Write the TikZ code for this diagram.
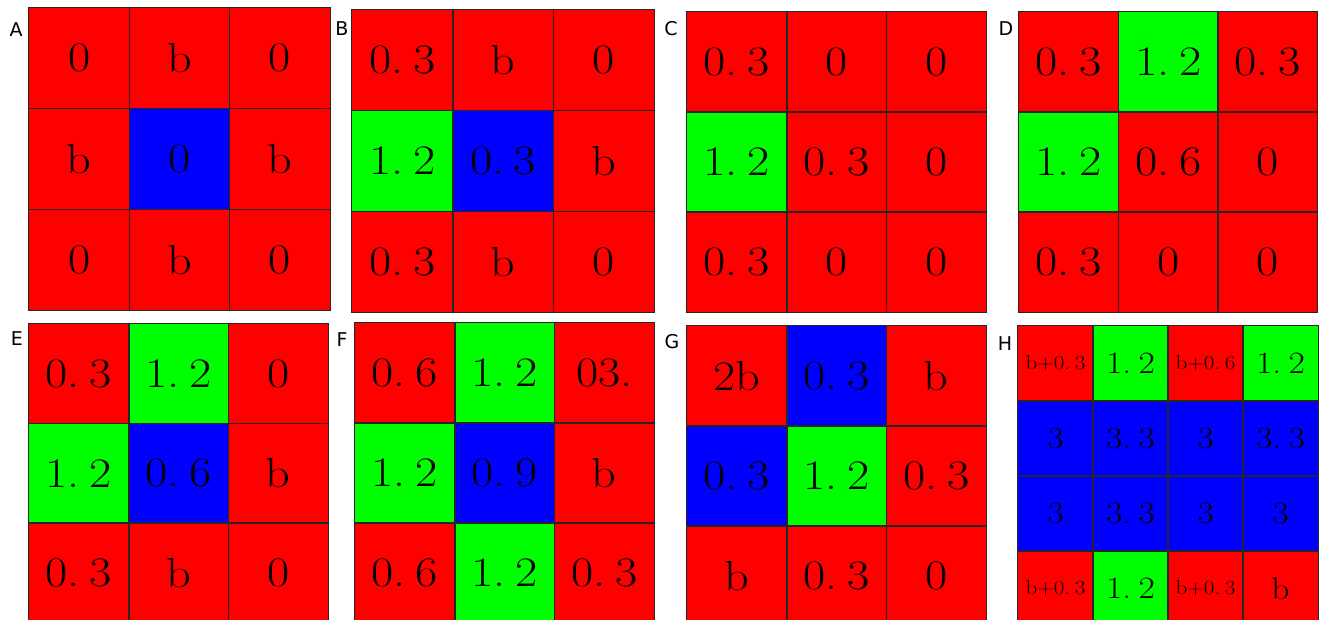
\documentclass[tikz,border=0pt]{standalone}
\usepackage{graphicx}
\usepackage{fontspec}
\newfontfamily\lblfont{DejaVu Sans}
\newcommand\smtxt[1]{{\fontsize{20}{22}\selectfont #1}}
\newcommand\gp{\hspace{0.2em}}
\newcommand\widetxt[1]{\scalebox{1.15}[1]{#1}}
\tikzset{
  x=1pt, y=-1pt,
  cellbox/.style={inner sep=0pt},
  cellline/.style={draw=black!85, line width=0.8pt},
  bigtxt/.style={font=\fontsize{42}{44}\selectfont},
  midtxt/.style={font=\fontsize{31}{33}\selectfont},
  lbl/.style={font=\lblfont\fontsize{19}{21}\selectfont, inner sep=0pt},
}
% #1 name, #2 x0, #3 y0, #4 cell width, #5 cell height, #6 text style, #7 list c/r/colour/text
\newcommand\drawpanel[7]{%
  \foreach \c/\r/\col/\t in {#7} {
    \node[cellbox, #6, fill=\col, minimum width=#4pt, minimum height=#5pt]
      (#1-\r-\c) at ({#2+(\c-0.5)*#4},{#3+(\r-0.5)*#5}) {\widetxt{\t}};
  }
  \foreach \c/\r/\col/\t in {#7} {
    \draw[cellline] (#1-\r-\c.south west) rectangle (#1-\r-\c.north east);
  }}
\begin{document}
\begin{tikzpicture}
\useasboundingbox (0,0) rectangle (1321,620);
\clip (0,0) rectangle (1321,620);
\fill[white] (0,0) rectangle (1321,620);

\drawpanel{A}{29}{8}{100.3}{100.7}{bigtxt}{%
  1/1/red/0, 2/1/red/b, 3/1/red/0,
  1/2/red/b, 2/2/blue/0, 3/2/red/b,
  1/3/red/0, 2/3/red/b, 3/3/red/0}
\drawpanel{B}{352}{10}{100.7}{100.7}{bigtxt}{%
  1/1/red/0.\gp3, 2/1/red/b, 3/1/red/0,
  1/2/green/1.\gp2, 2/2/blue/0.\gp3, 3/2/red/b,
  1/3/red/0.\gp3, 2/3/red/b, 3/3/red/0}
\drawpanel{C}{687}{12}{99.7}{100}{bigtxt}{%
  1/1/red/0.\gp3, 2/1/red/0, 3/1/red/0,
  1/2/green/1.\gp2, 2/2/red/0.\gp3, 3/2/red/0,
  1/3/red/0.\gp3, 2/3/red/0, 3/3/red/0}
\drawpanel{D}{1019}{12}{99.5}{100}{bigtxt}{%
  1/1/red/0.\gp3, 2/1/green/1.\gp2, 3/1/red/0.\gp3,
  1/2/green/1.\gp2, 2/2/red/0.\gp6, 3/2/red/0,
  1/3/red/0.\gp3, 2/3/red/0, 3/3/red/0}
\drawpanel{E}{29}{324}{99.7}{99.5}{bigtxt}{%
  1/1/red/0.\gp3, 2/1/green/1.\gp2, 3/1/red/0,
  1/2/green/1.\gp2, 2/2/blue/0.\gp6, 3/2/red/b,
  1/3/red/0.\gp3, 2/3/red/b, 3/3/red/0}
\drawpanel{F}{355}{323}{99.7}{100}{bigtxt}{%
  1/1/red/0.\gp6, 2/1/green/1.\gp2, 3/1/red/03.,
  1/2/green/1.\gp2, 2/2/blue/0.\gp9, 3/2/red/b,
  1/3/red/0.\gp6, 2/3/green/1.\gp2, 3/3/red/0.\gp3}
\drawpanel{G}{687}{326}{99.7}{100}{bigtxt}{%
  1/1/red/2b, 2/1/blue/0.\gp3, 3/1/red/b,
  1/2/blue/0.\gp3, 2/2/green/1.\gp2, 3/2/red/0.\gp3,
  1/3/red/b, 2/3/red/0.\gp3, 3/3/red/0}
\drawpanel{H}{1018}{326}{75}{75}{midtxt}{%
  1/1/red/\smtxt{b+0.\gp3}, 2/1/green/1.\gp2, 3/1/red/\smtxt{b+0.\gp6}, 4/1/green/1.\gp2,
  1/2/blue/3, 2/2/blue/3.\gp3, 3/2/blue/3, 4/2/blue/3.\gp3,
  1/3/blue/3, 2/3/blue/3.\gp3, 3/3/blue/3, 4/3/blue/3,
  1/4/red/\smtxt{b+0.\gp3}, 2/4/green/1.\gp2, 3/4/red/\smtxt{b+0.\gp3}, 4/4/red/b}

\node[lbl] (labA) at (16,30) {A};
\node[lbl] (labB) at (342,29) {B};
\node[lbl] (labC) at (671,29) {C};
\node[lbl] (labD) at (1006,29) {D};
\node[lbl] (labE) at (17,339) {E};
\node[lbl] (labF) at (342,340) {F};
\node[lbl] (labG) at (672,342) {G};
\node[lbl] (labH) at (1005,344) {H};
\end{tikzpicture}
\end{document}
